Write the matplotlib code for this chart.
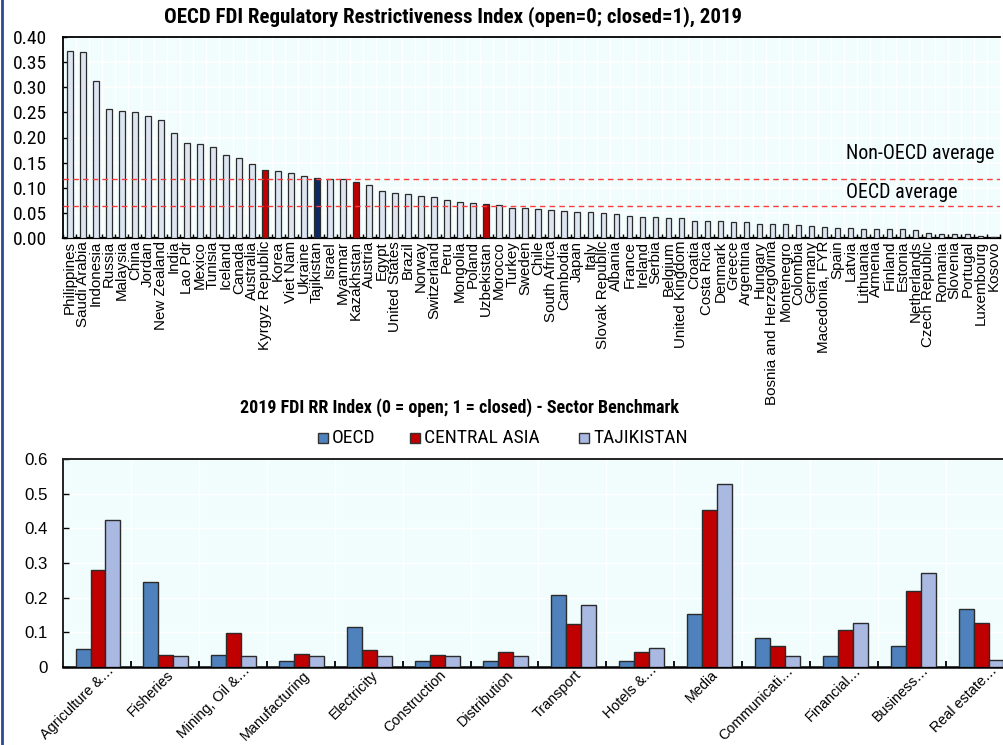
import matplotlib
matplotlib.use("Agg")
import matplotlib.pyplot as plt
import matplotlib.transforms as mtransforms
from matplotlib import font_manager
from matplotlib.patches import Rectangle
from matplotlib.lines import Line2D
import numpy as np

# ---------------------------------------------------------------- data
countries = [
    "Philippines", "Saudi Arabia", "Indonesia", "Russia", "Malaysia", "China",
    "Jordan", "New Zealand", "India", "Lao Pdr", "Mexico", "Tunisia", "Iceland",
    "Canada", "Australia", "Kyrgyz Republic", "Korea", "Viet Nam", "Ukraine",
    "Tajikistan", "Israel", "Myanmar", "Kazakhstan", "Austria", "Egypt",
    "United States", "Brazil", "Norway", "Switzerland", "Peru", "Mongolia",
    "Poland", "Uzbekistan", "Morocco", "Turkey", "Sweden", "Chile",
    "South Africa", "Cambodia", "Japan", "Italy", "Slovak Republic", "Albania",
    "France", "Ireland", "Serbia", "Belgium", "United Kingdom", "Croatia",
    "Costa Rica", "Denmark", "Greece", "Argentina", "Hungary",
    "Bosnia and Herzegovina", "Montenegro", "Colombia", "Germany",
    "Macedonia, FYR", "Spain", "Latvia", "Lithuania", "Armenia", "Finland",
    "Estonia", "Netherlands", "Czech Republic", "Romania", "Slovenia",
    "Portugal", "Luxembourg", "Kosovo",
]
restrictiveness = [
    0.373, 0.371, 0.312, 0.256, 0.252, 0.250, 0.242, 0.234, 0.208, 0.190,
    0.188, 0.181, 0.166, 0.160, 0.148, 0.136, 0.134, 0.130, 0.123, 0.120,
    0.118, 0.117, 0.112, 0.105, 0.094, 0.089, 0.087, 0.084, 0.082, 0.076,
    0.071, 0.070, 0.067, 0.066, 0.059, 0.059, 0.057, 0.055, 0.053, 0.052,
    0.052, 0.049, 0.048, 0.044, 0.042, 0.041, 0.039, 0.039, 0.034, 0.033,
    0.033, 0.031, 0.031, 0.028, 0.027, 0.027, 0.025, 0.023, 0.021, 0.020,
    0.020, 0.018, 0.018, 0.017, 0.017, 0.015, 0.009, 0.008, 0.007, 0.007,
    0.004, 0.001,
]
central_asia_countries = ["Kyrgyz Republic", "Kazakhstan", "Uzbekistan"]
focus_country = "Tajikistan"
non_oecd_average = 0.118
oecd_average = 0.064

sectors = [
    "Agriculture &…", "Fisheries", "Mining, Oil &…", "Manufacturing",
    "Electricity", "Construction", "Distribution", "Transport", "Hotels &…",
    "Media", "Communicati…", "Financial…", "Business…", "Real estate…",
]
oecd_sector = [0.051, 0.244, 0.034, 0.018, 0.115, 0.017, 0.018,
               0.209, 0.018, 0.154, 0.083, 0.032, 0.062, 0.166]
central_asia_sector = [0.281, 0.036, 0.098, 0.038, 0.049, 0.036, 0.042,
                       0.124, 0.044, 0.452, 0.062, 0.108, 0.219, 0.128]
tajikistan_sector = [0.425, 0.031, 0.031, 0.031, 0.031, 0.031, 0.031,
                     0.179, 0.055, 0.529, 0.031, 0.127, 0.272, 0.019]
series_names = ["OECD", "CENTRAL ASIA", "TAJIKISTAN"]

# ---------------------------------------------------------------- fonts
available = {f.name for f in font_manager.fontManager.ttflist}
REGULAR = "Liberation Sans" if "Liberation Sans" in available else "DejaVu Sans"
NARROW = next((n for n in ["Liberation Sans Narrow", "Arial Narrow",
                           "Roboto Condensed", "DejaVu Sans Condensed"]
               if n in available), None)


def narrow(size, **kw):
    if NARROW is not None:
        return dict(family=NARROW, size=size, **kw)
    return dict(family=REGULAR, size=size * 0.84, **kw)


def regular(size, **kw):
    return dict(family=REGULAR, size=size, **kw)


# ---------------------------------------------------------------- figure
W, H = 1004, 745
fig = plt.figure(figsize=(W / 100, H / 100), dpi=100)
fig.patch.set_facecolor("white")


def fx(px):
    return px / W


def fy(py):
    return 1 - py / H


PLOT_BG = "#f1fdfd"
BAR_EDGE = "#2b2b2b"

# ---------------------------------------------------------------- top chart
left1, right1, top1, bot1 = 63.4, 1000.0, 37, 238
ax1 = fig.add_axes([fx(left1), fy(bot1), (right1 - left1) / W, (bot1 - top1) / H])
ax1.set_facecolor(PLOT_BG)
ax1.set_axisbelow(True)

x1 = np.arange(len(countries))
colors1 = []
for c in countries:
    if c == focus_country:
        colors1.append("#0b2a63")
    elif c in central_asia_countries:
        colors1.append("#c00000")
    else:
        colors1.append("#dde5f1")
ax1.bar(x1, restrictiveness, width=0.42, color=colors1, edgecolor=BAR_EDGE,
        linewidth=0.9, zorder=3)

ax1.set_xlim(-0.5, len(countries) - 0.5)
ax1.set_ylim(0, 0.40)
yt1 = np.arange(0, 0.401, 0.05)
ax1.set_yticks(yt1)
ax1.set_yticklabels([f"{v:.2f}" for v in yt1], **narrow(14))
ax1.set_xticks(x1)
ax1.set_xticklabels(countries, rotation=90, ha="center", va="top", **regular(10.9))
ax1.set_xticks(np.arange(-0.5, len(countries), 1), minor=True)
ax1.tick_params(axis="x", which="major", length=0, pad=2)
ax1.tick_params(axis="x", which="minor", direction="in", length=3, width=1, color="black")
ax1.tick_params(axis="y", direction="in", length=3, width=1, pad=12, color="black")
ax1.yaxis.grid(True, color="white", linewidth=1.2)
ax1.xaxis.grid(True, which="minor", color="white", linewidth=1.0)
ax1.xaxis.grid(False, which="major")
for side in ("top", "left"):
    ax1.spines[side].set_color("black")
    ax1.spines[side].set_linewidth(1.3)
ax1.spines["bottom"].set_linewidth(1.6)
ax1.spines["right"].set_visible(False)

for level in (non_oecd_average, oecd_average):
    ax1.axhline(level, color="#ff3a3a", linestyle=(0, (4, 3)), linewidth=1.0, zorder=4)
label_x = (846 - left1) / (right1 - left1)
ax1.text(label_x, 0.169, "Non-OECD average", transform=ax1.get_yaxis_transform(),
         ha="left", va="center", **narrow(14.4))
ax1.text(label_x, 0.0896, "OECD average", transform=ax1.get_yaxis_transform(),
         ha="left", va="center", **narrow(14.4))

fig.text(fx(453), fy(17), "OECD FDI Regulatory Restrictiveness Index (open=0; closed=1), 2019",
         ha="center", va="center", **narrow(15, weight="bold"))

# ---------------------------------------------------------------- bottom chart
left2, right2, top2, bot2 = 63, 1014, 459, 667
ax2 = fig.add_axes([fx(left2), fy(bot2), (right2 - left2) / W, (bot2 - top2) / H])
ax2.set_facecolor(PLOT_BG)
ax2.set_axisbelow(True)

x2 = np.arange(len(sectors))
bw = 0.22
series = [oecd_sector, central_asia_sector, tajikistan_sector]
series_colors = ["#4f81bd", "#c00000", "#a9b9e2"]
for k, (vals, col) in enumerate(zip(series, series_colors)):
    ax2.bar(x2 + (k - 1) * bw + 0.015, vals, width=bw, color=col, edgecolor=BAR_EDGE,
            linewidth=1.0, zorder=3)

ax2.set_xlim(-0.5, len(sectors) - 0.5)
ax2.set_ylim(0, 0.6)
yt2 = np.arange(0, 0.601, 0.1)
ax2.set_yticks(yt2)
ax2.set_yticklabels([f"{v:g}" for v in np.round(yt2, 1)], **regular(12.2))
ax2.set_xticks(np.arange(-0.5, len(sectors), 1))
ax2.set_xticklabels([])
ax2.tick_params(axis="x", direction="in", length=4, width=1.3, color="black")
ax2.tick_params(axis="y", direction="in", length=4, width=1, pad=11, color="black")
ax2.grid(True, color="white", linewidth=1.0)
for side in ("top", "left"):
    ax2.spines[side].set_color("#222222")
    ax2.spines[side].set_linewidth(1.4)
ax2.spines["bottom"].set_linewidth(1.8)
ax2.spines["right"].set_visible(False)

# truncated sector names are pushed further along their slant
for i, name in enumerate(sectors):
    if name.endswith("…"):
        dx_px, dy_px = 10, 4
    else:
        dx_px, dy_px = 2, -1
    tf = ax2.get_xaxis_transform() + mtransforms.ScaledTranslation(
        dx_px / 100, dy_px / 100, fig.dpi_scale_trans)
    ax2.text(i, 0, name, transform=tf, rotation=45, rotation_mode="anchor",
             ha="right", va="top", **regular(10.4))

fig.text(fx(460), fy(408), "2019 FDI RR Index (0 = open; 1 = closed) - Sector Benchmark",
         ha="center", va="center", **narrow(13, weight="bold"))

# legend
legend_square_x = [318, 410, 579]
for name, col, sx in zip(series_names, series_colors, legend_square_x):
    fig.add_artist(Rectangle((fx(sx), fy(443)), 10 / W, 10 / H, transform=fig.transFigure,
                             facecolor=col, edgecolor="#333333", linewidth=1.0))
    fig.text(fx(sx + 14), fy(438), name, ha="left", va="center", **narrow(14))

# frame line on the left edge
fig.add_artist(Line2D([fx(2), fx(2)], [0, 1], transform=fig.transFigure,
                      color="#2c4a8e", linewidth=2.0))

fig.savefig("out.png", dpi=100, facecolor="white")
